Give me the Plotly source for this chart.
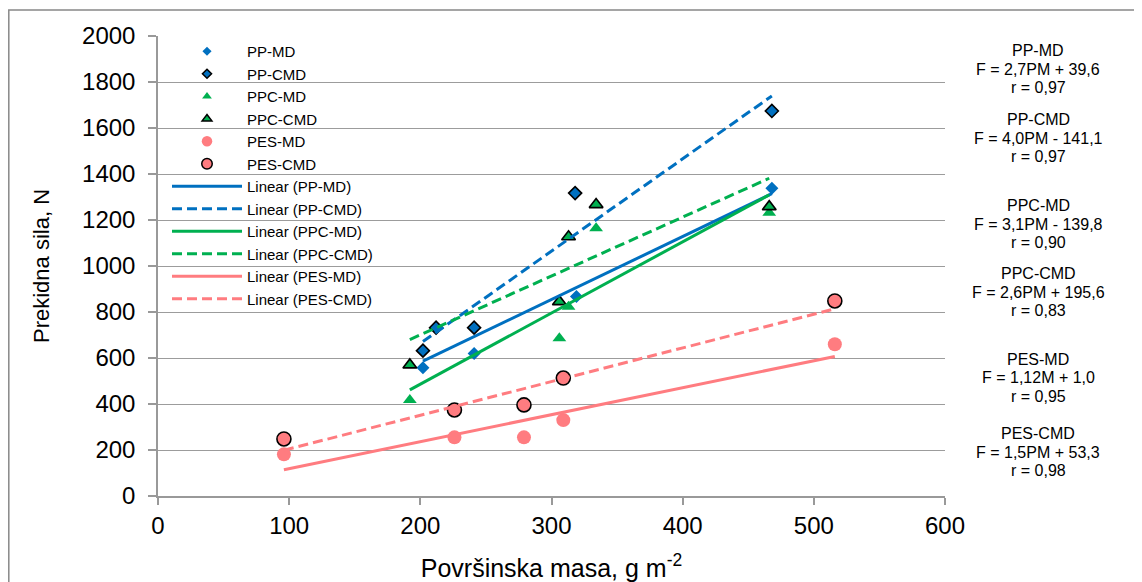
import numpy as np
import plotly.graph_objects as go

# ---------------- data ----------------
series_names = ["PP-MD", "PP-CMD", "PPC-MD", "PPC-CMD", "PES-MD", "PES-CMD"]

pp_md_x = [202, 212, 241, 319, 468]
pp_md_y = [558, 730, 620, 867, 1338]
pp_cmd_x = [202, 212, 241, 318, 468]
pp_cmd_y = [632, 732, 732, 1317, 1674]
ppc_md_x = [192, 306, 313, 334, 466]
ppc_md_y = [417, 686, 823, 1164, 1232]
ppc_cmd_x = [192, 306, 313, 334, 466]
ppc_cmd_y = [570, 845, 1127, 1267, 1258]
pes_md_x = [96, 226, 279, 309, 516]
pes_md_y = [181, 255, 255, 330, 660]
pes_cmd_x = [96, 226, 279, 309, 516]
pes_cmd_y = [248, 374, 396, 513, 848]

eq_formulas = ["F = 2,7PM + 39,6", "F = 4,0PM - 141,1", "F = 3,1PM - 139,8",
               "F = 2,6PM + 195,6", "F = 1,12M + 1,0", "F = 1,5PM + 53,3"]
eq_r = ["r = 0,97", "r = 0,97", "r = 0,90", "r = 0,83", "r = 0,95", "r = 0,98"]

x_title = "Površinska masa, g m<sup>-2</sup>"
y_title = "Prekidna sila, N"

# ---------------- styles ----------------
BLUE = "#0070C0"
GREEN = "#00B050"
PINK = "#FF7C80"
FONT = "Liberation Sans, Arial, sans-serif"

OFF = 8                      # page body margin
W, H = 1142 - OFF, 582 - OFF
# plot area in screen pixels
L, R, T, B = 158, 945, 36, 496


def px_x(X):
    return (X - L) / (R - L)


def px_y(Y):
    return (B - Y) / (B - T)


series = [
    (pp_md_x, pp_md_y, BLUE, "diamond", 10, 7, 0, "solid"),
    (pp_cmd_x, pp_cmd_y, BLUE, "diamond", 10, 7, 1.6, "10px,5px"),
    (ppc_md_x, ppc_md_y, GREEN, "triangle-up", 12, 8.5, 0, "solid"),
    (ppc_cmd_x, ppc_cmd_y, GREEN, "triangle-up", 12, 8.5, 1.6, "10px,5px"),
    (pes_md_x, pes_md_y, PINK, "circle", 14, 10.5, 0, "solid"),
    (pes_cmd_x, pes_cmd_y, PINK, "circle", 14, 10.5, 1.6, "10px,5px"),
]

fig = go.Figure()

# data markers
for name, (xs, ys, col, sym, size, lsize, lw, dash) in zip(series_names, series):
    fig.add_trace(go.Scatter(
        x=xs, y=ys, mode="markers", name=name, showlegend=False,
        marker=dict(color=col, symbol=sym, size=size,
                    line=dict(color="black", width=lw)),
    ))

# legend entries for markers (smaller symbols, as in the reference legend)
for name, (xs, ys, col, sym, size, lsize, lw, dash) in zip(series_names, series):
    fig.add_trace(go.Scatter(
        x=[None], y=[None], mode="markers", name=name,
        marker=dict(color=col, symbol=sym, size=lsize,
                    line=dict(color="black", width=min(lw, 1.5))),
    ))

# linear trend lines (least squares of each series)
for name, (xs, ys, col, sym, size, lsize, lw, dash) in zip(series_names, series):
    k, b = np.polyfit(xs, ys, 1)
    xl = np.array([min(xs), max(xs)], dtype=float)
    fig.add_trace(go.Scatter(
        x=xl, y=k * xl + b, mode="lines", name=f"Linear ({name})",
        line=dict(color=col, width=3, dash=dash),
    ))

# equation annotations on the right
mid_px = [69, 138, 224, 292, 378, 452]
dy = 18.3
for name, f, r, ym in zip(series_names, eq_formulas, eq_r, mid_px):
    for txt, yy in ((name, ym - dy), (f, ym), (r, ym + dy)):
        fig.add_annotation(
            text=txt, xref="paper", yref="paper",
            x=px_x(1038), y=px_y(yy), xanchor="center", yanchor="middle",
            showarrow=False, font=dict(family=FONT, size=16, color="black"),
        )

# outer frame
fig.add_shape(type="rect", xref="paper", yref="paper",
              x0=px_x(8.8), x1=px_x(1160), y0=px_y(640), y1=px_y(10),
              line=dict(color="#888888", width=1.5), layer="below")

fig.update_layout(
    width=W, height=H,
    margin=dict(l=L - OFF, r=W - (R - OFF), t=T - OFF, b=H - (B - OFF), pad=0,
                autoexpand=False),
    paper_bgcolor="white", plot_bgcolor="white",
    font=dict(family=FONT, color="black"),
    showlegend=True,
    legend=dict(
        x=px_x(167), y=px_y(35), xanchor="left", yanchor="top",
        bgcolor="rgba(0,0,0,0)", borderwidth=0,
        font=dict(family=FONT, size=15, color="black"),
        itemwidth=70, tracegroupgap=0,
    ),
    xaxis=dict(
        range=[0, 600], dtick=100, tick0=0, automargin=False,
        showgrid=False, zeroline=False,
        showline=True, linecolor="#999999", linewidth=1.5,
        ticks="outside", ticklen=7, tickcolor="#999999", tickwidth=1.5,
        tickfont=dict(family=FONT, size=24, color="black"),
        title=dict(text=x_title, font=dict(family=FONT, size=25, color="black"),
                   standoff=23),
    ),
    yaxis=dict(
        range=[0, 2000], dtick=200, tick0=0, automargin=False,
        showgrid=True, gridcolor="#9C9C9C", gridwidth=1.4,
        zeroline=False,
        showline=True, linecolor="#999999", linewidth=1.5,
        ticks="outside", ticklen=8, tickcolor="#999999", tickwidth=1.5,
        ticklabelstandoff=8,
        tickfont=dict(family=FONT, size=24, color="black"),
        title=dict(text=y_title, font=dict(family=FONT, size=22, color="black"),
                   standoff=26),
    ),
)

fig.write_html("out.html")
